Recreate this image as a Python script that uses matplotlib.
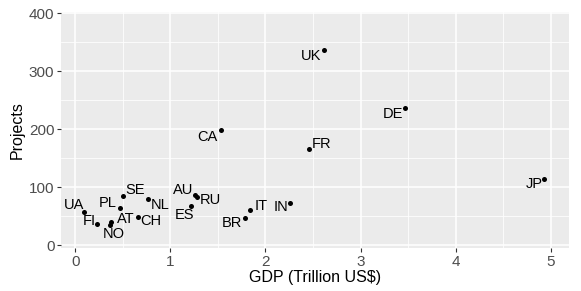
import matplotlib
matplotlib.use("Agg")
import matplotlib.pyplot as plt
from matplotlib.ticker import MultipleLocator

# data
countries = ['UK', 'DE', 'CA', 'FR', 'JP', 'AU', 'RU', 'ES', 'SE', 'PL',
             'NL', 'UA', 'FI', 'AT', 'NO', 'CH', 'BR', 'IT', 'IN']
gdp = [2.62, 3.47, 1.53, 2.46, 4.93, 1.26, 1.28, 1.22, 0.50, 0.47,
       0.77, 0.09, 0.23, 0.38, 0.36, 0.66, 1.79, 1.84, 2.26]
projects = [336, 236, 199, 165, 114, 87, 82, 68, 85, 64,
            80, 57, 37, 40, 34, 49, 46, 61, 73]

# label offsets in pixels (style only, like ggrepel placement)
label_dx = [-13, -12, -13, 12, -10, -12, 13, -7, 12, -12,
            12, -10, -8, 14, 4, 13, -14, 11, -9]
label_dy = [-6, -6, -7, 5, -5, 5, -3, -9, 6, 5,
            -6, 7, 3, 3, -9, -4, -5, 4, -4]

plt.rcParams['font.family'] = ['Liberation Sans', 'DejaVu Sans']

fig = plt.figure(figsize=(5.81, 2.91), dpi=100)
ax = fig.add_axes([0.105, 0.148, 0.874, 0.811])
ax.set_facecolor('#EBEBEB')

ax.scatter(gdp, projects, s=13, color='black', zorder=3, linewidths=0)
for name, x, y, dx, dy in zip(countries, gdp, projects, label_dx, label_dy):
    ax.annotate(name, (x, y), xytext=(dx, dy), textcoords='offset pixels',
                ha='center', va='center', fontsize=10.5, color='black', zorder=4)

ax.set_xlim(-0.15, 5.19)
ax.set_ylim(-5, 402)
ax.xaxis.set_major_locator(MultipleLocator(1))
ax.xaxis.set_minor_locator(MultipleLocator(0.5))
ax.yaxis.set_major_locator(MultipleLocator(100))
ax.yaxis.set_minor_locator(MultipleLocator(50))
ax.grid(which='major', color='white', linewidth=1.1, zorder=0)
ax.grid(which='minor', color='white', linewidth=0.55, zorder=0)
ax.set_axisbelow(True)
for s in ax.spines.values():
    s.set_visible(False)
ax.tick_params(which='major', length=2.75, width=0.8, color='#333333',
               labelsize=11, labelcolor='#4D4D4D', pad=2)
ax.tick_params(which='minor', length=0)

ax.set_xlabel('GDP (Trillion US\\$)', fontsize=11.5, labelpad=1)
ax.set_ylabel('Projects', fontsize=11.5, labelpad=3)

fig.savefig('out.png', dpi=100)
